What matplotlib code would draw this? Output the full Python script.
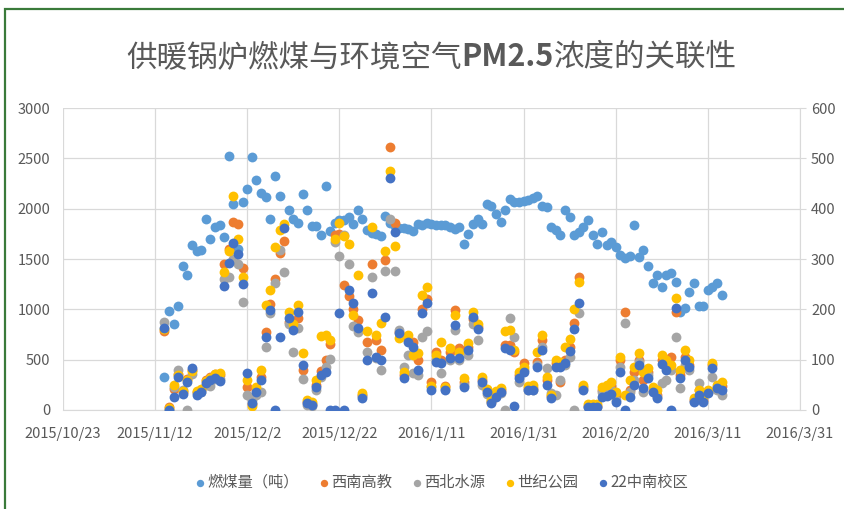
import numpy as np
import matplotlib
matplotlib.use("Agg")
import matplotlib.pyplot as plt
from matplotlib.patches import Rectangle

plt.rcParams['font.family'] = ['Noto Sans CJK SC', 'DejaVu Sans']

# daily values from 2015/11/14 to 2016/3/14
start = np.datetime64('2015-11-14')
nan = np.nan

coal = [330, 985, 850, 1030, 1430, 1340, 1640, 1580, 1590, 1900,
        1700, 1820, 1840, 1720, 2525, 2045, 1600, 2070, 2200, 2510,
        2280, 2160, 2120, 1900, 2320, 2125, nan, 1990, 1900, 1860,
        2150, 1990, 1830, 1830, 1740, 2225, 1780, 1860, 1890, 1890,
        1920, 1850, 1990, 1900, 1790, 1760, 1750, 1730, 1930, 1860,
        1830, 1810, 1810, 1800, 1780, 1850, 1840, 1860, 1850, 1840,
        1840, 1840, 1820, 1800, 1820, 1650, 1750, 1850, 1900, 1850,
        2050, 2030, 1950, 1870, 1990, 2100, 2070, 2070, 2080, 2090,
        2110, 2130, 2030, 2020, 1820, 1790, 1740, 1990, 1920, 1740,
        1770, 1820, 1890, 1740, 1650, 1770, 1640, 1670, 1620, 1540,
        1510, 1530, 1840, 1520, 1590, 1430, 1260, 1340, 1225, 1340,
        1360, 1275, 975, 1010, 1175, 1260, 1030, 1030, 1190, 1225,
        1265, 1140]

xinan = [156, 5, 42, 72, 35, 62, 80, 36, 40, 60,
         66, 72, 70, 290, 320, 373, 370, 282, 46, 12,
         40, 65, 155, 210, 260, 311, 336, 174, 165, 182,
         80, 15, 12, 50, 78, 99, 132, 348, 350, 248,
         226, 200, 179, 30, 136, 291, 139, 119, 298, 523,
         371, 155, 70, 140, 135, 100, 200, 220, 56, 116,
         100, 48, 115, 199, 123, 55, 125, 180, 165, 60,
         40, 15, 30, 40, 130, 130, 116, 70, 93, 44,
         44, 96, 139, 60, 28, 93, 56, 100, 125, 172,
         265, 45, 8, 8, 8, 40, 45, 48, 30, 100,
         195, 40, 75, 100, 60, 75, 40, 30, 100, 92,
         106, 195, 70, 105, 90, 20, 40, 20, 38, 90,
         46, 48]

xibei = [174, 0, 45, 80, 40, 0, 72, 34, 36, 50,
         48, 62, 62, 260, 264, 300, 290, 215, 30, 20,
         30, 36, 126, 193, 252, 318, 275, 170, 116, 163,
         61, 10, 8, 40, 65, 85, 101, 334, 306, 348,
         291, 166, 155, 28, 116, 264, 103, 80, 277, 380,
         277, 159, 86, 109, 73, 70, 146, 156, 45, 100,
         73, 42, 100, 159, 100, 50, 110, 170, 139, 50,
         32, 18, 28, 34, 0, 182, 146, 55, 80, 40,
         40, 90, 125, 83, 33, 30, 60, 90, 106, 0,
         192, 42, 6, 6, 6, 35, 35, 40, 20, 86,
         173, 35, 60, 95, 36, 70, 38, 26, 53, 60,
         80, 146, 43, 90, 80, 18, 53, 25, 35, 66,
         40, 30]

shiji = [160, 4, 50, 70, 38, 60, 78, 38, 42, 58,
         64, 72, 74, 274, 315, 425, 340, 265, 60, 8,
         46, 80, 209, 238, 323, 358, 370, 195, 170, 209,
         113, 20, 15, 60, 148, 150, 140, 340, 371, 345,
         330, 189, 268, 33, 156, 363, 149, 172, 315, 474,
         326, 144, 76, 149, 110, 113, 229, 245, 48, 110,
         136, 46, 123, 189, 115, 63, 133, 195, 170, 65,
         42, 20, 38, 44, 156, 159, 120, 75, 85, 48,
         50, 116, 149, 66, 30, 99, 95, 126, 142, 200,
         255, 50, 12, 12, 12, 46, 50, 56, 36, 106,
         30, 60, 86, 113, 76, 83, 46, 40, 110, 99,
         90, 222, 79, 119, 100, 23, 40, 28, 40, 93,
         50, 56]

zhongnan = [163, 0, 26, 66, 32, 56, 84, 30, 36, 54,
            60, 64, 58, 246, 292, 332, 310, 250, 73, 14,
            36, 60, 146, 199, 0, 146, 361, 182, 158, 195,
            89, 13, 10, 46, 70, 76, 0, 0, 193, 0,
            238, 212, 162, 23, 100, 233, 105, 100, 185, 460,
            354, 152, 63, 136, 126, 79, 193, 212, 40, 96,
            93, 40, 103, 169, 103, 46, 119, 185, 160, 56,
            36, 13, 26, 36, 123, 119, 8, 63, 76, 40,
            40, 86, 119, 50, 23, 86, 86, 93, 118, 160,
            212, 40, 5, 5, 5, 26, 28, 32, 16, 75,
            0, 26, 50, 90, 43, 63, 35, 24, 91, 80,
            0, 202, 63, 99, 86, 16, 30, 16, 33, 83,
            43, 40]

labels = ['燃煤量（吨）', '西南高教', '西北水源', '世纪公园', '22中南校区']
colors = ['#5B9BD5', '#ED7D31', '#A5A5A5', '#FFC000', '#4472C4']

dates = start + np.arange(len(coal))
xticks = np.arange(np.datetime64('2015-10-23'), np.datetime64('2016-04-01'), 20)

fig = plt.figure(figsize=(8.45, 5.09), dpi=100)
ax = fig.add_axes([0.0746, 0.1945, 0.8721, 0.5933])
ax2 = ax.twinx()

handles = []
handles.append(ax.scatter(dates, coal, s=50, color=colors[0], linewidths=0, label=labels[0]))
for vals, c, lab in zip([xinan, xibei, shiji, zhongnan], colors[1:], labels[1:]):
    handles.append(ax2.scatter(dates, vals, s=50, color=c, linewidths=0, label=lab))

ax.set_xlim(xticks[0], xticks[-1])
ax.set_xticks(xticks)
ax.set_xticklabels([f"{t.year}/{t.month}/{t.day}" for t in xticks.astype(object)])
ax.set_ylim(0, 3000)
ax.set_yticks(np.arange(0, 3001, 500))
ax2.set_ylim(0, 600)
ax2.set_yticks(np.arange(0, 601, 100))

ax.grid(True, color='#D9D9D9', lw=0.9)
ax.set_axisbelow(True)
for a in (ax, ax2):
    for s in ('top', 'left'):
        a.spines[s].set_visible(False)
ax.spines['right'].set_visible(False)
ax2.spines['bottom'].set_visible(False)
ax.spines['bottom'].set_color('#D9D9D9')
ax2.spines['right'].set_color('#D9D9D9')

ax.tick_params(axis='y', length=0, pad=9, labelsize=10.5, labelcolor='#595959')
ax.tick_params(axis='x', length=0, pad=12, labelsize=10.5, labelcolor='#595959')
ax2.tick_params(axis='y', length=4, color='#D9D9D9', pad=4, labelsize=10.5, labelcolor='#595959')

# title, PM2.5 in bold
t1 = fig.text(0.149, 0.857, '供暖锅炉燃煤与环境空气', fontsize=22, color='#595959', va='bottom')
t2 = ax.annotate('PM2.5', xy=(1, 0), xycoords=t1, fontsize=22, color='#595959',
                 fontweight='bold', va='bottom', ha='left')
ax.annotate('浓度的关联性', xy=(1, 0), xycoords=t2, fontsize=22, color='#595959',
            va='bottom', ha='left')

fig.legend(handles=handles, labels=labels, loc='center', bbox_to_anchor=(0.522, 0.053),
           ncol=5, frameon=False, fontsize=11, labelcolor='#595959', markerscale=0.75,
           handlelength=0.8, handletextpad=0.1, columnspacing=1.2)

fig.patches.append(Rectangle((0.006, -0.05), 1.2, 0.982 + 0.05, transform=fig.transFigure,
                             fill=False, edgecolor='#3A7A3A', lw=1.6))

fig.savefig('out.png', dpi=100)
